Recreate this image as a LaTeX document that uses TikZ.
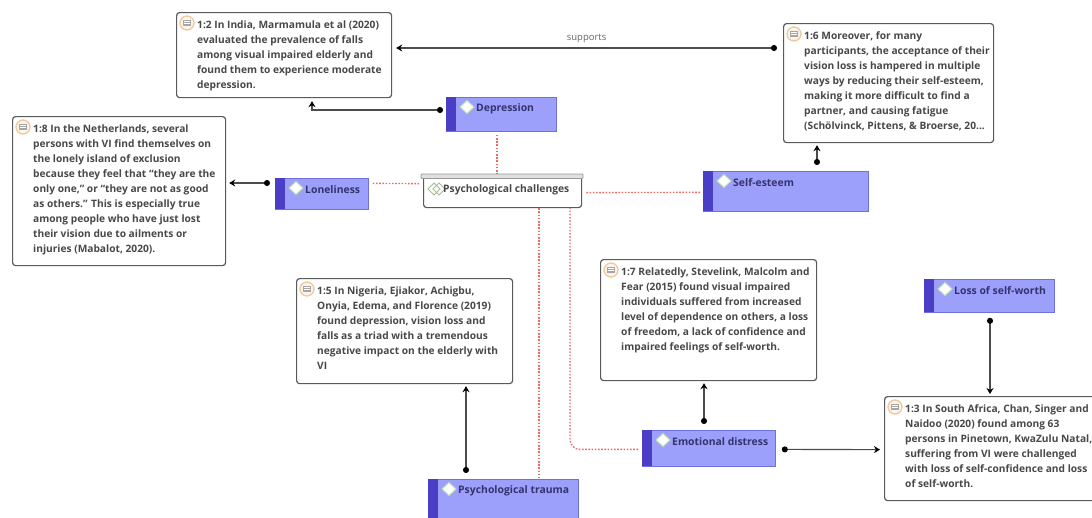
\documentclass[tikz,border=0pt]{standalone}
\usepackage{fontspec}
\setmainfont{Open Sans}
\usetikzlibrary{arrows.meta,calc}
\definecolor{qborder}{HTML}{5A5A5A}
\definecolor{qtext}{HTML}{484848}
\definecolor{cfill}{HTML}{9DA0FB}
\definecolor{cbar}{HTML}{4A3DC6}
\definecolor{cborder}{HTML}{6E70DC}
\definecolor{ctext}{HTML}{33336E}
\definecolor{reddot}{HTML}{F26666}
\definecolor{iconring}{HTML}{EDC9A0}
\definecolor{icondiam}{HTML}{BFE0B0}
\tikzset{
  quotebox/.style={draw=qborder,line width=1.2pt,rounded corners=3pt,fill=white,anchor=north west,inner sep=0pt},
  quotetext/.style={anchor=north west,inner sep=0pt,align=left,text=qtext,font=\fontsize{10.2}{15}\selectfont\bfseries},
  codebox/.style={draw=cborder,line width=.8pt,fill=cfill,anchor=north west,inner sep=0pt},
  codetext/.style={anchor=west,inner sep=0pt,text=ctext,font=\fontsize{10.4}{14}\selectfont\bfseries},
  link/.style={line width=1.1pt,draw=black!70,{Circle[length=6pt,width=6pt,black]}-{Stealth[length=6pt,width=7pt,black]}},
  softlink/.style={line width=1.4pt,draw=reddot,dash pattern=on 1.6pt off 1.6pt},
}
\newcommand{\qicon}[2]{%
  \fill[white!80!iconring] (#1,#2) circle (7);
  \draw[iconring,line width=1.3pt] (#1,#2) circle (7);
  \fill[black!35] (#1-3.8,#2-3.5) rectangle (#1+3.8,#2+3);
  \draw[white,line width=.5pt] (#1-3,#2-1.4) -- (#1+3,#2-1.4) (#1-3,#2+.6) -- (#1+3,#2+.6);
}
\newcommand{\qbox}[6]{% name x y w h text
  \node[quotebox,minimum width=#4,minimum height=#5] (#1) at (#2,#3) {};
  \qicon{#2+11}{#3+11}
  \node[quotetext] (#1t) at (#2+21,#3+8.5) {#6};
}
\newcommand{\cbox}[6]{% name x y w h text
  \node[codebox,minimum width=#4,minimum height=#5] (#1) at (#2,#3) {};
  \fill[cbar] (#2,#3) rectangle (#2+10,#3+#5);
  \draw[icondiam,fill=white,line width=1pt] (#2+14,#3+10) -- (#2+21,#3+3.5) -- (#2+28,#3+10) -- (#2+21,#3+16.5) -- cycle;
  \node[codetext] (#1t) at (#2+30,#3+11.5) {#6};
}
\begin{document}
\begin{tikzpicture}[x=1pt,y=-1pt]
\useasboundingbox (0,0) rectangle (1092,517);
\clip (0,0) rectangle (1092,517);
\fill[white] (0,0) rectangle (1092,517);

\qbox{qa}{176}{12}{215}{85}{1:2 In India, Marmamula et al (2020)\\evaluated the prevalence of falls\\among visual impaired elderly and\\found them to experience moderate\\depression.}
\qbox{qb}{783}{23}{210}{119}{1:6 Moreover, for many\\participants, the acceptance of their\\vision loss is hampered in multiple\\ways by reducing their self-esteem,\\making it more difficult to find a\\partner, and causing fatigue\\(Schölvinck, Pittens, \& Broerse, 20...}
\qbox{qc}{12}{116}{213}{149}{1:8 In the Netherlands, several\\persons with VI find themselves on\\the lonely island of exclusion\\because they feel that ``they are the\\only one,'' or ``they are not as good\\as others.'' This is especially true\\among people who have just lost\\their vision due to ailments or\\injuries (Mabalot, 2020).}
\qbox{qd}{296}{278}{216}{105}{1:5 In Nigeria, Ejiakor, Achigbu,\\Onyia, Edema, and Florence (2019)\\found depression, vision loss and\\falls as a triad with a tremendous\\negative impact on the elderly with\\VI}
\qbox{qe}{600}{259}{216}{121}{1:7 Relatedly, Stevelink, Malcolm and\\Fear (2015) found visual impaired\\individuals suffered from increased\\level of dependence on others, a loss\\of freedom, a lack of confidence and\\impaired feelings of self-worth.}
\qbox{qf}{884}{396}{212}{104}{1:3 In South Africa, Chan, Singer and\\Naidoo (2020) found among 63\\persons in Pinetown, KwaZulu Natal,\\suffering from VI were challenged\\with loss of self-confidence and loss\\of self-worth.}

\cbox{cdep}{446}{97}{110}{34}{Depression}
\cbox{clon}{275}{178}{93}{31}{Loneliness}
\cbox{cest}{703}{171}{165}{40}{Self-esteem}
\cbox{closs}{924}{279}{130}{33}{Loss of self-worth}
\cbox{cemo}{642}{430}{133}{36}{Emotional distress}
\cbox{ctra}{428}{479}{150}{50}{Psychological trauma}

% group node
\node[draw=qborder,line width=1.2pt,rounded corners=3pt,fill=white,anchor=north west,inner sep=0pt,minimum width=158,minimum height=33] (pc) at (423,174) {};
\fill[white!88!black,draw=black!40,line width=.8pt,rounded corners=1pt] (421,174) rectangle (583,178.5);
\foreach \dx in {0,5}{\draw[icondiam!85!black,line width=1pt] (428+\dx,189) -- (434+\dx,183) -- (440+\dx,189) -- (434+\dx,195) -- cycle;}
\node[anchor=west,inner sep=0pt,text=qtext,font=\fontsize{10.3}{14}\selectfont\bfseries] (pct) at (443,189.5) {Psychological challenges};

% soft links
\draw[softlink] ([shift={(51,3)}]cdep.south west) -- ([shift={(74,0)}]pc.north west);
\draw[softlink] ([shift={(4,-10.5)}]clon.east) -- ([shift={(-3,-7.5)}]pc.west);
\draw[softlink] ([shift={(-3,1)}]cest.west) -- ([shift={(4,1.5)}]pc.east);
\draw[softlink] ([shift={(116,0)}]pc.south west) -- ([shift={(111,-1)}]ctra.north west);
\draw[softlink,rounded corners=10pt] ([shift={(-4,1)}]cemo.west) -| ([shift={(147,0)}]pc.south west);

% links
\draw[link] ([shift={(-6,25)}]qb.north west) -- ([shift={(4,36)}]qa.north east) node[midway,above=5pt,inner sep=0pt,font=\fontsize{9.5}{12}\selectfont,text=black!60] (sup) {supports};
\draw[link] ([shift={(-3,13)}]cdep.north west) -| ([shift={(136,3)}]qa.south west);
\draw[link] ([shift={(-5,5)}]clon.north west) -- ([shift={(3,67)}]qc.north east);
\draw[link] ([shift={(114,-6)}]cest.north west) -- ([shift={(34,2)}]qb.south west);
\draw[link] ([shift={(38,-6)}]ctra.north west) -- ([shift={(170,2)}]qd.south west);
\draw[link] ([shift={(62,-6)}]cemo.north west) -- ([shift={(104,2)}]qe.south west);
\draw[link] ([shift={(6,1)}]cemo.east) -- ([shift={(-4,1)}]qf.west);
\draw[link] ([shift={(66,5)}]closs.south west) -- ([shift={(106,-2)}]qf.north west);
\end{tikzpicture}
\end{document}
